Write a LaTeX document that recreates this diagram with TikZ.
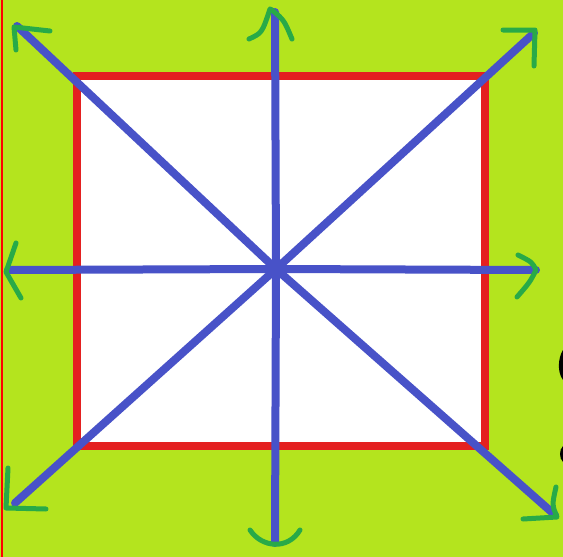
\documentclass[tikz,border=0pt]{standalone}
\definecolor{bg}{RGB}{180,228,30}
\definecolor{sqred}{RGB}{228,32,32}
\definecolor{lineblue}{RGB}{72,82,200}
\definecolor{arrgreen}{RGB}{40,170,72}
\tikzset{
  spoke/.style={draw=lineblue,line width=8pt,line cap=round},
  headmark/.style={draw=arrgreen,line width=5pt,line cap=round,line join=round},
  frame/.style={draw=sqred,line width=8pt,fill=white}
}
\begin{document}
\begin{tikzpicture}[x=1pt,y=-1pt]
\useasboundingbox (0,0) rectangle (563,557);
\fill[bg] (0,0) rectangle (563,557);
\draw[red,line width=1.5pt] (2,0) -- (2,557);
% square
\draw[frame] (77,76) rectangle (485,446);
% spokes
\coordinate (c) at (276,269);
\coordinate (n) at (275,12);
\coordinate (s) at (275,543);
\coordinate (w) at (8,270);
\coordinate (e) at (536,270);
\coordinate (nw) at (17,26);
\coordinate (ne) at (534,33);
\coordinate (sw) at (15,503);
\coordinate (se) at (555,515);
\foreach \p in {n,s,w,e,nw,ne,sw,se} \draw[spoke] (c) -- (\p);
% green arrowheads (hand drawn)
\draw[headmark] (249,39) .. controls (262,33) .. (270,9) -- (272,10) .. controls (284,20) .. (292,39);
\draw[headmark] (250,530) .. controls (262,548) and (288,550) .. (300,530);
\draw[headmark] (16,243) -- (6,272) -- (21,298);
\draw[headmark] (518,255) .. controls (532,262) .. (536,270) .. controls (530,282) .. (517,297);
\draw[headmark] (50,31) -- (14,27) -- (16,50);
\draw[headmark] (503,30) -- (535,30) -- (534,66);
\draw[headmark] (8,468) -- (6,508) -- (46,509);
\draw[headmark] (523,519) -- (557,517) .. controls (552,505) .. (556,487);
% black marks at the right edge
\fill[black] (563,350) .. controls (558,358) and (557,372) .. (563,380) -- cycle;
\fill[black] (563,446) .. controls (559,450) and (559,458) .. (563,462) -- cycle;
\end{tikzpicture}
\end{document}
